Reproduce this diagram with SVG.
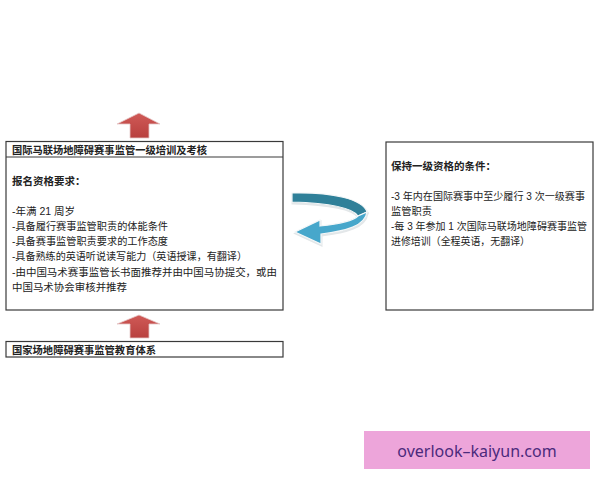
<svg xmlns="http://www.w3.org/2000/svg" width="600" height="480" viewBox="0 0 600 480">
<defs>
<style>
.box{fill:#fff;stroke:#3a3a3a;stroke-width:1.2}
.t{font-family:"Liberation Sans","Noto Sans CJK SC",sans-serif;font-size:10.5px;fill:#222}
.b{font-weight:bold}
.up{fill:url(#red);stroke:#e6c9c9;stroke-width:0.8}
.sh{fill:#cfd5d8;stroke:#e3e7e9;stroke-width:2}
</style>
<linearGradient id="red" x1="0" y1="0" x2="0" y2="1">
<stop offset="0" stop-color="#d05a57"/>
<stop offset="1" stop-color="#b8403e"/>
</linearGradient>
<path id="band1" d="M292,193 C332,192 363,199 367,212 L358,216 C352,207 325,203 292,202 Z"/>
<path id="band2" d="M367,212 C365,226 346,231 321,234 L321,244 L295,232 L320,220 L320,226 C340,224 354,220 358,216 Z"/>
</defs>
<rect width="600" height="480" fill="#fff"/>
<g id="connectors">
<polygon class="up" points="139,113 160,124 149,124 149,138 130,138 130,124 117,124"/>
<polygon class="up" points="139,315 160,324 149,324 149,338 130,338 130,324 117,324"/>
<g id="cycle-arrow">
<use href="#band1" class="sh" transform="translate(0.5,1.5)"/>
<use href="#band2" class="sh" transform="translate(0.5,1.5)"/>
<use href="#band1" fill="#2f8099" stroke="#f4f7f8" stroke-width="1.2"/>
<use href="#band2" fill="#47a7cb" stroke="#f4f7f8" stroke-width="1.2"/>
</g>
</g>
<g id="node-top">
<rect class="box" x="6" y="141.5" width="277" height="168.5"/>
<line x1="6" y1="157" x2="283" y2="157" stroke="#3a3a3a" stroke-width="1.2"/>
<text class="t b" x="12" y="154" textLength="195" lengthAdjust="spacingAndGlyphs">国际马联场地障碍赛事监管一级培训及考核</text>
<text class="t b" x="12" y="185">报名资格要求：</text>
<text class="t" x="12" y="215">-年满 21 周岁</text>
<text class="t" x="12" y="230" textLength="156" lengthAdjust="spacingAndGlyphs">-具备履行赛事监管职责的体能条件</text>
<text class="t" x="12" y="245" textLength="156" lengthAdjust="spacingAndGlyphs">-具备赛事监管职责要求的工作态度</text>
<text class="t" x="12" y="260" textLength="235" lengthAdjust="spacingAndGlyphs">-具备熟练的英语听说读写能力（英语授课，有翻译）</text>
<text class="t" x="12" y="275.5" textLength="265" lengthAdjust="spacingAndGlyphs">-由中国马术赛事监管长书面推荐并由中国马协提交，或由</text>
<text class="t" x="12" y="291" textLength="115" lengthAdjust="spacingAndGlyphs">中国马术协会审核并推荐</text>
</g>
<g id="node-bottom">
<rect class="box" x="6" y="341.5" width="277" height="15.5"/>
<text class="t b" x="12" y="353.5" textLength="144" lengthAdjust="spacingAndGlyphs">国家场地障碍赛事监管教育体系</text>
</g>
<g id="node-right">
<rect class="box" x="386" y="142" width="207" height="168"/>
<text class="t b" x="391" y="170">保持一级资格的条件：</text>
<text class="t" x="391" y="200" textLength="194" lengthAdjust="spacingAndGlyphs">-3 年内在国际赛事中至少履行 3 次一级赛事</text>
<text class="t" x="391" y="215" textLength="41" lengthAdjust="spacingAndGlyphs">监管职责</text>
<text class="t" x="391" y="230" textLength="196" lengthAdjust="spacingAndGlyphs">-每 3 年参加 1 次国际马联场地障碍赛事监管</text>
<text class="t" x="391" y="245" textLength="139" lengthAdjust="spacingAndGlyphs">进修培训（全程英语，无翻译）</text>
</g>
<g id="watermark">
<rect x="364" y="431" width="226" height="38" fill="#eda5da"/>
<text x="477" y="456.5" text-anchor="middle" font-family="'Noto Sans','Liberation Sans',sans-serif" font-size="16" fill="#4b2a7c">overlook–kaiyun.com</text>
</g>
</svg>
